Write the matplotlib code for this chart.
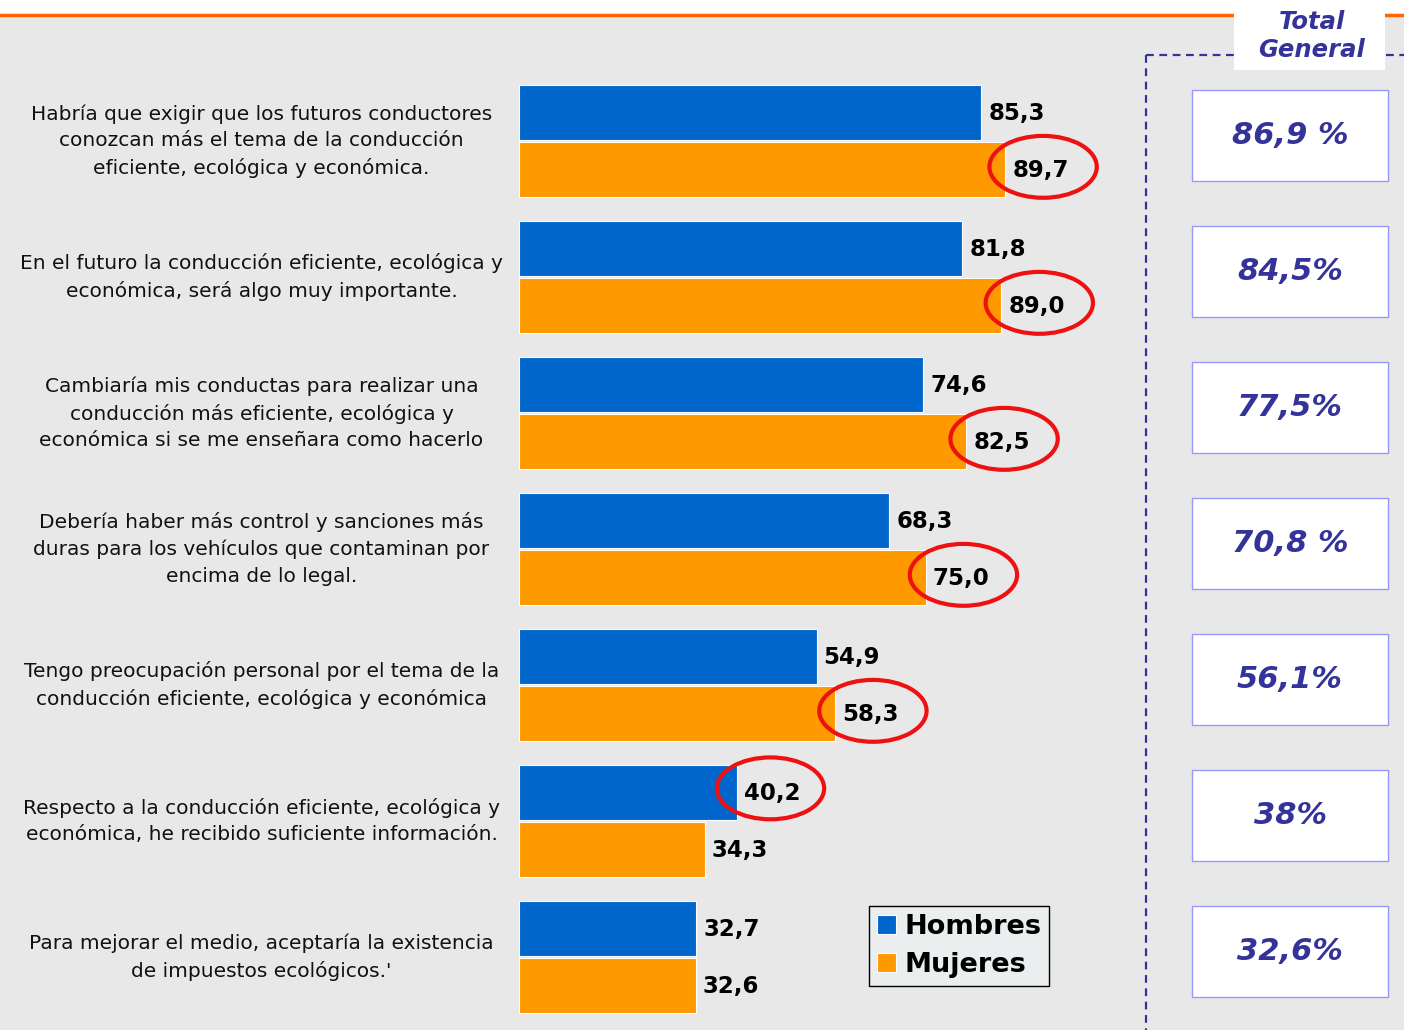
import matplotlib.pyplot as plt
from matplotlib.patches import Ellipse, Rectangle
from matplotlib.lines import Line2D
import numpy as np

preguntas = [
    "Habría que exigir que los futuros conductores\nconozcan más el tema de la conducción\neficiente, ecológica y económica.",
    "En el futuro la conducción eficiente, ecológica y\neconómica, será algo muy importante.",
    "Cambiaría mis conductas para realizar una\nconducción más eficiente, ecológica y\neconómica si se me enseñara como hacerlo",
    "Debería haber más control y sanciones más\nduras para los vehículos que contaminan por\nencima de lo legal.",
    "Tengo preocupación personal por el tema de la\nconducción eficiente, ecológica y económica",
    "Respecto a la conducción eficiente, ecológica y\neconómica, he recibido suficiente información.",
    "Para mejorar el medio, aceptaría la existencia\nde impuestos ecológicos.'",
]
hombres = [85.3, 81.8, 74.6, 68.3, 54.9, 40.2, 32.7]
mujeres = [89.7, 89.0, 82.5, 75.0, 58.3, 34.3, 32.6]
total_general = ["86,9 %", "84,5%", "77,5%", "70,8 %", "56,1%", "38%", "32,6%"]
# which bar is circled in red in each group (None = no circle)
resaltado = ["M", "M", "M", "M", "M", "H", None]

AZUL = "#0066cc"
NARANJA = "#ff9900"
FONDO = "#e8e8e8"
MORADO = "#333399"

W, H = 1404, 1030
fig = plt.figure(figsize=(W / 100, H / 100), dpi=100, facecolor=FONDO)

# px -> figure fraction helpers
def fx(px):
    return px / W

def fy(py):
    return 1 - py / H

# white strip + orange rule on top
fig.add_artist(Rectangle((0, fy(14)), 1, 1 - fy(14), transform=fig.transFigure,
                         facecolor="white", edgecolor="none", zorder=0))
fig.add_artist(Line2D([0, 1], [fy(15), fy(15)], transform=fig.transFigure,
                      color="#ff6600", lw=2.5, zorder=1))

# dashed frame for "Total General"
fig.add_artist(Line2D([fx(1146), fx(1146)], [fy(55), 0], transform=fig.transFigure,
                      color=MORADO, lw=1.6, ls=(0, (3.5, 2.5)), zorder=1))
fig.add_artist(Line2D([fx(1146), 1], [fy(55), fy(55)], transform=fig.transFigure,
                      color=MORADO, lw=1.6, ls=(0, (3.5, 2.5)), zorder=1))
fig.add_artist(Rectangle((fx(1234), fy(70)), fx(1385 - 1234), fy(0) - fy(70),
                         transform=fig.transFigure, facecolor="white",
                         edgecolor="none", zorder=2))
fig.text(fx(1312), fy(36), "Total\nGeneral", ha="center", va="center",
         fontsize=17.5, fontweight="bold", fontstyle="italic", color=MORADO,
         linespacing=1.2, zorder=3)

# main axes: x=0 at px 519, 5.42 px per unit
px_unit = 5.42
ax_left, ax_right = 519, 1140
ax = fig.add_axes([fx(ax_left), 0, fx(ax_right - ax_left), fy(15)])
ax.set_facecolor("none")
ax.set_xlim(0, (ax_right - ax_left) / px_unit)
y_top = (15 - 141) / 136
y_bot = (1030 - 141) / 136
ax.set_ylim(y_bot, y_top)
ax.axis("off")

y = np.arange(len(preguntas))
h = 0.405
off = 0.21
ax.barh(y - off, hombres, height=h, color=AZUL, edgecolor="white", lw=0.8, label="Hombres")
ax.barh(y + off, mujeres, height=h, color=NARANJA, edgecolor="white", lw=0.8, label="Mujeres")

for i in range(len(preguntas)):
    for val, yy in ((hombres[i], y[i] - off), (mujeres[i], y[i] + off)):
        ax.text(val + 1.3, yy + 0.01, f"{val:.1f}".replace(".", ","), ha="left", va="center",
                fontsize=16.5, fontweight="bold", color="black")
    ax.text(-47.5, y[i], preguntas[i], ha="center", va="center", fontsize=14.5,
            linespacing=1.5, color="#111111", clip_on=False)

    if resaltado[i] == "M":
        cx, cy = mujeres[i] + 7.0, y[i] + off - 0.02
    elif resaltado[i] == "H":
        cx, cy = hombres[i] + 6.2, y[i] - off - 0.03
    else:
        cx = None
    if cx is not None:
        ax.add_patch(Ellipse((cx, cy), 19.8, 0.455, facecolor="none",
                             edgecolor="#ee1111", lw=3, clip_on=False, zorder=5))

    # total general boxes
    bx = (1290 - ax_left) / px_unit
    ax.add_patch(Rectangle((bx - 18, y[i] - 0.04 - 0.335), 36, 0.67,
                           facecolor="white", edgecolor="#9999ff", lw=1.0,
                           clip_on=False, zorder=3))
    ax.text(bx, y[i] - 0.04, total_general[i], ha="center", va="center",
            fontsize=22, fontweight="bold", fontstyle="italic", color=MORADO,
            clip_on=False, zorder=4)

leg = ax.legend(loc="lower left", bbox_to_anchor=(fx(869), fy(986)),
                bbox_transform=fig.transFigure, borderaxespad=0, fancybox=False,
                frameon=True, edgecolor="black", facecolor="#eaeeee", framealpha=1,
                handlelength=0.7, handleheight=0.7, handletextpad=0.3,
                labelspacing=0.45, borderpad=0.3,
                prop={"size": 19.5, "weight": "bold"})
leg.get_frame().set_linewidth(1.0)

fig.savefig("out.png", dpi=100, facecolor=FONDO)
